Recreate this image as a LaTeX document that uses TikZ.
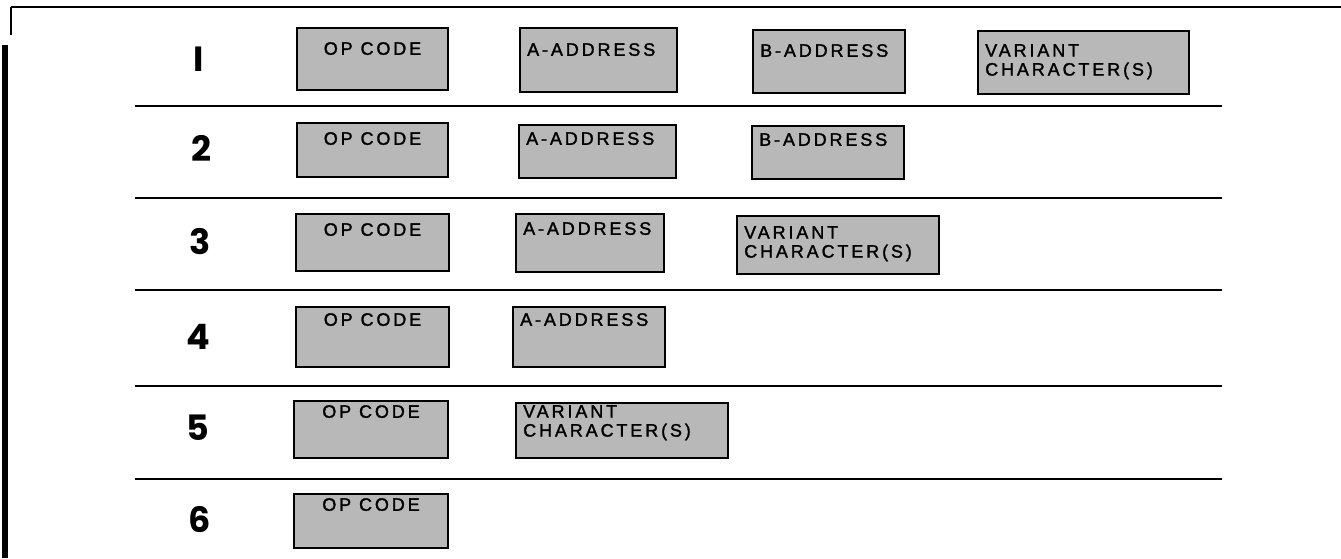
\documentclass[tikz,border=0pt]{standalone}
\usepackage{fontspec}
\setmainfont{Liberation Sans}
\newfontfamily\boxfont{Liberation Sans}[LetterSpace=16,FakeBold=1.6]
\newfontfamily\numfont{Poppins}
\usetikzlibrary{positioning}

\begin{document}
\begin{tikzpicture}[
  x=1pt,y=-1pt,
  fld/.style={draw,line width=2pt,fill=black!28,anchor=north west,inner sep=0pt},
  txt/.style={anchor=north west,inner xsep=8pt,inner ysep=#1,align=left,
    font=\boxfont\fontsize{18}{19}\selectfont},
  txt/.default=8pt,
  optxt/.style={anchor=north,inner sep=0pt,yshift=-#1,
    font=\boxfont\fontsize{18}{19}\selectfont},
  num/.style={font=\numfont\bfseries\fontsize{35}{35}\selectfont,inner sep=0pt},
  rule/.style={line width=1.5pt}
]
\useasboundingbox (0,0) rectangle (1341,558);

% frame
\draw[line width=2pt] (11,7) -- (1341,7);
\draw[line width=1.5pt] (11,7) -- (11,35);
\draw[line width=6pt] (5,45) -- (5,558);

% row separators
\foreach \y in {106,198,290,386,479}
  \draw[rule] (135,\y) -- (1222,\y);

% row numbers
\node[num] (n1) at (199,59) {I};
\node[num] (n2) at (201,148) {2};
\node[num] (n3) at (200,242) {3};
\node[num] (n4) at (198,337) {4};
\node[num] (n5) at (198,428) {5};
\node[num] (n6) at (200,520) {6};

% row 1
\node[fld,minimum width=151pt,minimum height=62pt,label={[optxt=15pt]north:OP CODE}] (op1) at (296,27) {};
\node[fld,minimum width=157pt,minimum height=64pt,label={[txt=16pt]north west:A-ADDRESS}] (a1) at (519,27) {};
\node[fld,minimum width=152pt,minimum height=63pt,label={[txt=15pt]north west:B-ADDRESS}] (b1) at (752,29) {};
\node[fld,minimum width=211pt,minimum height=63pt,label={[txt=14pt]north west:VARIANT\\CHARACTER(S)}] (v1) at (977,30) {};

% row 2
\node[fld,minimum width=151pt,minimum height=54pt,label={[optxt=10pt]north:OP CODE}] (op2) at (296,122) {};
\node[fld,minimum width=157pt,minimum height=53pt,label={[txt=8pt]north west:A-ADDRESS}] (a2) at (518,124) {};
\node[fld,minimum width=152pt,minimum height=53pt,label={[txt=8pt]north west:B-ADDRESS}] (b2) at (751,125) {};

% row 3
\node[fld,minimum width=153pt,minimum height=57pt,label={[optxt=10pt]north:OP CODE}] (op3) at (295,213) {};
\node[fld,minimum width=148pt,minimum height=58pt,label={[txt=9pt]north west:A-ADDRESS}] (a3) at (515,213) {};
\node[fld,minimum width=202pt,minimum height=58pt,label={[txt=11pt]north west:VARIANT\\CHARACTER(S)}] (v3) at (736,215) {};

% row 4
\node[fld,minimum width=153pt,minimum height=60pt,label={[optxt=7pt]north:OP CODE}] (op4) at (295,306) {};
\node[fld,minimum width=152pt,minimum height=60pt,label={[txt=7pt]north west:A-ADDRESS}] (a4) at (512,306) {};

% row 5
\node[fld,minimum width=154pt,minimum height=57pt,label={[optxt=5pt]north:OP CODE}] (op5) at (293,400) {};
\node[fld,minimum width=212pt,minimum height=55pt,label={[txt=3pt]north west:VARIANT\\CHARACTER(S)}] (v5) at (515,402) {};

% row 6
\node[fld,minimum width=154pt,minimum height=54pt,label={[optxt=5pt]north:OP CODE}] (op6) at (293,493) {};
\end{tikzpicture}
\end{document}
